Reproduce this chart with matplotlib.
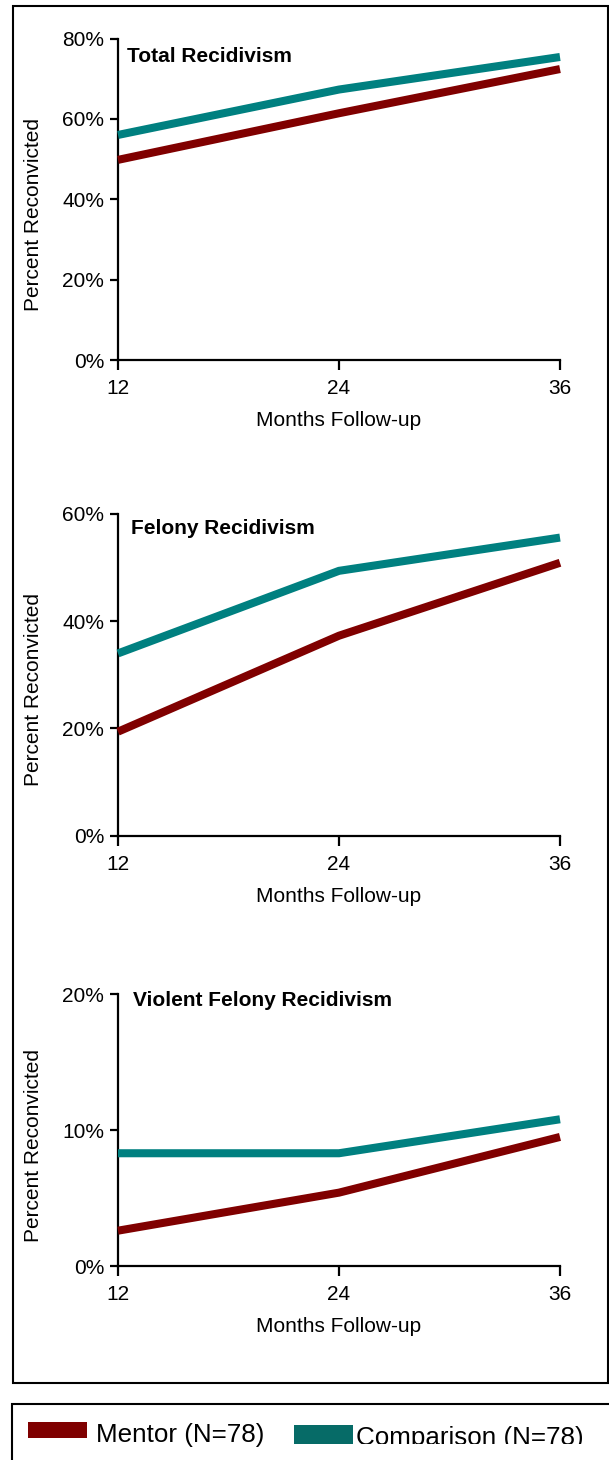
import matplotlib
matplotlib.use("Agg")
import matplotlib.pyplot as plt
from matplotlib.patches import Rectangle
from matplotlib.ticker import FuncFormatter
from matplotlib.transforms import Bbox, TransformedBbox

plt.rcParams['font.family'] = ['Liberation Sans', 'DejaVu Sans']

# ---- data ----
months = [12, 24, 36]
series_names = ["Mentor (N=78)", "Comparison (N=78)"]
series_colors = ["#800000", "#008080"]
legend_colors = ["#7f0000", "#066b67"]

panel_titles = ["Total Recidivism", "Felony Recidivism", "Violent Felony Recidivism"]
mentor_total = [49.8, 61.4, 72.4]
comparison_total = [56.0, 67.3, 75.4]
mentor_felony = [19.4, 37.3, 50.9]
comparison_felony = [34.0, 49.4, 55.6]
mentor_violent = [2.6, 5.4, 9.5]
comparison_violent = [8.3, 8.3, 10.8]

y_max = [80, 60, 20]
y_ticks = [[0, 20, 40, 60, 80], [0, 20, 40, 60], [0, 10, 20]]
x_label = "Months Follow-up"
y_label = "Percent Reconvicted"

panels = [
    (mentor_total, comparison_total),
    (mentor_felony, comparison_felony),
    (mentor_violent, comparison_violent),
]

W, H = 609, 1460
fig = plt.figure(figsize=(W / 100, H / 100), dpi=100)

def fx(px):
    return px / W

def fy(py):
    return 1 - py / H

# axes pixel boxes: (left, right, top, bottom)
boxes = [(118, 560, 38.5, 360), (118, 560, 514, 835.7), (118, 560, 994.3, 1266)]
title_pos = [(127, 57), (131, 529), (133, 1000)]
FS = 15

for i, (m_vals, c_vals) in enumerate(panels):
    l, r, t, b = boxes[i]
    ax = fig.add_axes([fx(l), fy(b), (r - l) / W, (b - t) / H])
    ax.plot(months, m_vals, color=series_colors[0], lw=5.8, solid_capstyle='butt',
            solid_joinstyle='miter', clip_on=False, zorder=3)
    ax.plot(months, c_vals, color=series_colors[1], lw=5.8, solid_capstyle='butt',
            solid_joinstyle='miter', clip_on=False, zorder=3)
    ax.set_xlim(12, 36)
    ax.set_ylim(0, y_max[i])
    ax.set_xticks(months)
    ax.set_yticks(y_ticks[i])
    ax.yaxis.set_major_formatter(FuncFormatter(lambda v, p: f"{int(v)}%"))
    for s in ['top', 'right']:
        ax.spines[s].set_visible(False)
    for s in ['left', 'bottom']:
        ax.spines[s].set_linewidth(1.6)
        ax.spines[s].set_color('black')
    ax.tick_params(axis='y', direction='out', length=6, width=1.6, labelsize=FS, pad=4)
    ax.tick_params(axis='x', direction='out', length=7, width=1.6, labelsize=FS, pad=7)
    ax.set_xlabel(x_label, fontsize=FS, labelpad=9)
    ax.set_ylabel(y_label, fontsize=FS)
    ax.yaxis.label.set_verticalalignment('center')
    ax.yaxis.set_label_coords((33.5 - l) / (r - l), 0.5 - 15 / (b - t))
    ax.patch.set_alpha(0)
    tx, ty = title_pos[i]
    fig.text(fx(tx), fy(ty), panel_titles[i], fontsize=FS, fontweight='bold',
             ha='left', va='center')

# outer frame
fig.add_artist(Rectangle((fx(12.5), fy(1383)), fx(607.5) - fx(12.5), fy(6) - fy(1383),
                         transform=fig.transFigure, fill=False, edgecolor='black', lw=1.5))

# legend box (extends beyond the image)
fig.add_artist(Rectangle((fx(11.5), fy(1470)), fx(620) - fx(11.5), fy(1404) - fy(1470),
                         transform=fig.transFigure, fill=False, edgecolor='black', lw=1.5,
                         clip_on=False))

# legend items
leg_patches = [(28, 87, 1421.7, 1438.3), (294, 353, 1425, 1444)]
leg_text_x = [95.5, 356]
leg_text_y = [1441.7, 1445]
leg_clip_bottom = [None, 1444]
for k in range(2):
    x0, x1, y0, y1 = leg_patches[k]
    fig.add_artist(Rectangle((fx(x0), fy(y1)), fx(x1) - fx(x0), fy(y0) - fy(y1),
                             transform=fig.transFigure, facecolor=legend_colors[k],
                             edgecolor='none'))
    tt = fig.text(fx(leg_text_x[k]), fy(leg_text_y[k]), series_names[k], fontsize=18.7,
                  ha='left', va='baseline')
    if leg_clip_bottom[k] is not None:
        clip = TransformedBbox(Bbox([[0, fy(leg_clip_bottom[k])], [1, fy(1400)]]),
                               fig.transFigure)
        tt.set_clip_box(clip)
        tt.set_clip_on(True)

fig.savefig("out.png", dpi=100)
